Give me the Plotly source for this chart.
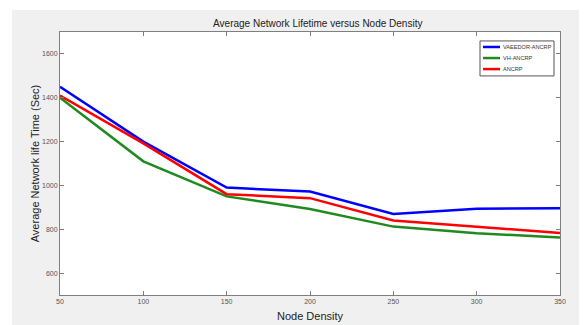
import plotly.graph_objects as go

node_density = [50, 100, 150, 200, 250, 300, 350]
vaeedor_ancrp = [1450, 1200, 990, 972, 870, 893, 896]
vh_ancrp = [1400, 1110, 950, 892, 812, 782, 762]
ancrp = [1410, 1192, 960, 942, 840, 812, 783]

series_names = ["VAEEDOR-ANCRP", "VH-ANCRP", "ANCRP"]
series_values = [vaeedor_ancrp, vh_ancrp, ancrp]
series_colors = ["#0000ff", "#1f8a1f", "#ff0000"]

fig = go.Figure()
for name, vals, color in zip(series_names, series_values, series_colors):
    fig.add_trace(go.Scatter(x=node_density, y=vals, mode="lines", name=name,
                             line=dict(color=color, width=2.5), showlegend=False))

font_family = "Liberation Sans Narrow, Arial Narrow, Liberation Sans, Arial, sans-serif"

axis_common = dict(showline=True, linecolor="#7f7f7f", linewidth=1, mirror="ticks",
                   ticks="inside", ticklen=4, tickcolor="#7f7f7f", showgrid=False,
                   zeroline=False, automargin=False,
                   tickfont=dict(size=7, color="#555555", family=font_family))

shapes = [
    dict(type="rect", xref="paper", yref="paper", x0=-0.096, x1=1.06, y0=-0.12, y1=1.084,
         fillcolor="#f0f0f0", line=dict(width=0), layer="below"),
    dict(type="rect", xref="paper", yref="paper", x0=0, x1=1, y0=0, y1=1,
         fillcolor="white", line=dict(width=0), layer="below"),
    # compact legend box
    dict(type="rect", xref="paper", yref="paper", x0=0.84, x1=0.988, y0=0.833, y1=0.966,
         fillcolor="white", line=dict(width=1, color="#555555"), layer="above"),
]
annotations = []
row_y = [0.943, 0.901, 0.859]
for name, color, ry in zip(series_names, series_colors, row_y):
    shapes.append(dict(type="line", xref="paper", yref="paper", x0=0.846, x1=0.88, y0=ry, y1=ry,
                       line=dict(color=color, width=2.5), layer="above"))
    annotations.append(dict(text=name, xref="paper", yref="paper", x=0.882, y=ry,
                            xanchor="left", yanchor="middle", showarrow=False,
                            font=dict(size=5.6, color="#333333", family=font_family)))

# page body has an 8px margin, so the figure is made 8px smaller and margins shifted
fig.update_layout(
    width=579, height=317,
    margin=dict(l=52, r=27, t=24, b=30, autoexpand=False),
    paper_bgcolor="white", plot_bgcolor="white",
    showlegend=False,
    title=dict(text="Average Network Lifetime versus Node Density", x=0.535, xanchor="center",
               y=0.95, yanchor="middle", font=dict(size=10, color="#222222", family=font_family)),
    xaxis=dict(range=[50, 350], tickvals=[50, 100, 150, 200, 250, 300, 350],
               title=dict(text="Node Density", standoff=7,
                          font=dict(size=11, color="#222222", family=font_family)),
               **axis_common),
    yaxis=dict(range=[500, 1700], tickvals=[600, 800, 1000, 1200, 1400, 1600],
               title=dict(text="Average Network life Time (Sec)", standoff=0,
                          font=dict(size=11, color="#222222", family="Liberation Sans, Arial, sans-serif")),
               **axis_common),
    shapes=shapes,
    annotations=annotations,
)

fig.write_html("out.html")
